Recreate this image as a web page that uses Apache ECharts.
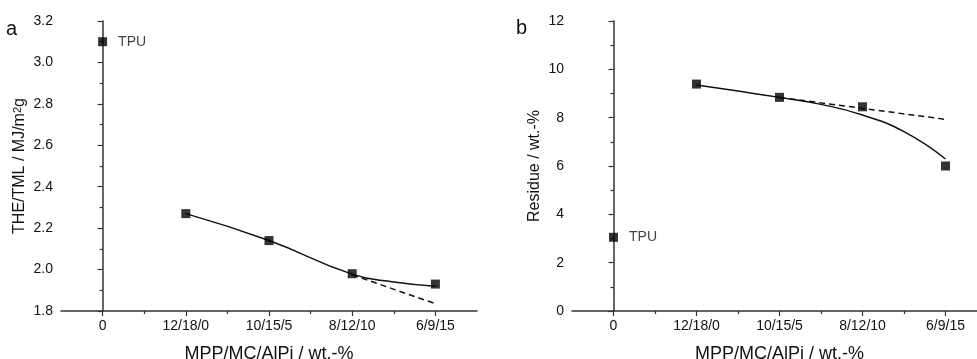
<!DOCTYPE html>
<html>
<head>
<meta charset="utf-8">
<script src="https://cdn.jsdelivr.net/npm/echarts@6/dist/echarts.min.js"></script>
<style>
  html, body { margin: 0; padding: 0; background: #fff; }
  #chart { width: 977px; height: 359px; }
</style>
</head>
<body>
<div id="chart"></div>
<script>
// Formulations: neat TPU followed by MPP/MC/AlPi ratios (wt.-%)
const categories = ['0', '12/18/0', '10/15/5', '8/12/10', '6/9/15'];

// (a) total heat evolved per total mass loss, MJ/m²g
const theValues = [3.10, 2.27, 2.14, 1.98, 1.93];
const theFitX = [1, 2, 3, 3.5, 4];
const theFitY = [2.27, 2.14, 1.978, 1.94, 1.92];
const theTrendX = [3, 4];
const theTrendY = [1.975, 1.835];

// (b) residue, wt.-%
const residueValues = [3.05, 9.39, 8.84, 8.45, 6.00];
const residueFitX = [1, 1.5, 2, 2.5, 3, 3.5, 4];
const residueFitY = [9.35, 9.10, 8.84, 8.55, 8.11, 7.42, 6.29];
const residueTrendX = [2, 4];
const residueTrendY = [8.84, 7.93];

const yTicksA = { min: 1.8, max: 3.2, interval: 0.2 };
const yTicksB = { min: 0, max: 12, interval: 2 };

const FONT = '"Liberation Sans", Arial, sans-serif';
const INK = '#111';
const AXIS = '#333';

const zip = (xs, ys) => xs.map((x, i) => [x, ys[i]]);
const indexed = values => values.map((v, i) => [i, v]);

function xAxes(gridIndex) {
  return [
    {
      type: 'value', gridIndex, min: -0.5, max: 4.5,
      axisLine: { show: true, lineStyle: { color: AXIS, width: 1.5 } },
      axisTick: { show: true, customValues: [0, 1, 2, 3, 4], length: 5, lineStyle: { color: AXIS, width: 1.2 } },
      axisLabel: {
        customValues: [0, 1, 2, 3, 4], margin: 8,
        formatter: v => categories[Math.round(v)],
        color: INK, fontSize: 14, fontFamily: FONT
      },
      splitLine: { show: false },
      name: 'MPP/MC/AlPi / wt.-%', nameLocation: 'middle', nameGap: 34,
      nameTextStyle: { color: INK, fontSize: 18, fontFamily: FONT }
    },
    {
      // half-step minor ticks between formulations
      type: 'value', gridIndex, min: -0.5, max: 4.5, position: 'bottom',
      axisLine: { show: false },
      axisTick: { show: true, customValues: [0.5, 1.5, 2.5, 3.5], length: 3, lineStyle: { color: AXIS, width: 1.2 } },
      axisLabel: { show: false },
      splitLine: { show: false }
    }
  ];
}

function yAxis(gridIndex, ticks, name, nameGap, digits) {
  return {
    type: 'value', gridIndex, min: ticks.min, max: ticks.max, interval: ticks.interval,
    axisLine: { show: true, lineStyle: { color: AXIS, width: 1.5 } },
    axisTick: { show: true, length: 5, lineStyle: { color: AXIS, width: 1.2 } },
    minorTick: { show: true, splitNumber: 2, length: 3, lineStyle: { color: AXIS, width: 1.2 } },
    axisLabel: {
      margin: 8, color: INK, fontSize: 14, fontFamily: FONT,
      formatter: v => v.toFixed(digits)
    },
    splitLine: { show: false },
    name, nameLocation: 'middle', nameGap,
    nameTextStyle: {
      color: INK, fontSize: 16, fontFamily: FONT,
      rich: {
        sup: { color: INK, fontSize: 11, fontFamily: FONT, verticalAlign: 'top', lineHeight: 12, padding: [0, 0, 6, 0] }
      }
    }
  };
}

function panelSeries(xi, yi, values, fit, trend) {
  return [
    {
      type: 'line', xAxisIndex: xi, yAxisIndex: yi, data: fit,
      smooth: 0.5, showSymbol: false, silent: true,
      lineStyle: { color: '#111', width: 1.5 }, z: 2
    },
    {
      type: 'line', xAxisIndex: xi, yAxisIndex: yi, data: trend,
      showSymbol: false, silent: true,
      lineStyle: { color: '#111', width: 1.5, type: [6, 4] }, z: 2
    },
    {
      type: 'scatter', xAxisIndex: xi, yAxisIndex: yi, data: indexed(values),
      symbol: 'rect', symbolSize: 9, itemStyle: { color: '#000' }, z: 3,
      label: {
        show: true, position: 'right', distance: 11,
        formatter: p => (p.dataIndex === 0 ? 'TPU' : ''),
        color: INK, fontSize: 14, fontFamily: FONT
      }
    }
  ];
}

const chart = echarts.init(document.getElementById('chart'), null, { renderer: 'canvas' });
chart.setOption({
  backgroundColor: '#fff',
  animation: false,
  grid: [
    { left: 61, top: 21, width: 416, height: 290, containLabel: false, outerBoundsMode: 'none' },
    { left: 572, top: 21, width: 415, height: 290, containLabel: false, outerBoundsMode: 'none' }
  ],
  xAxis: [...xAxes(0), ...xAxes(1)],
  yAxis: [
    yAxis(0, yTicksA, 'THE/TML / MJ/m{sup|2}g', 33, 1),
    yAxis(1, yTicksB, 'Residue / wt.-%', 29, 0)
  ],
  graphic: [
    { type: 'text', left: 6, top: 19, style: { text: 'a', fontSize: 20, fontFamily: FONT, fill: INK } },
    { type: 'text', left: 516, top: 18, style: { text: 'b', fontSize: 20, fontFamily: FONT, fill: INK } }
  ],
  series: [
    ...panelSeries(0, 0, theValues, zip(theFitX, theFitY), zip(theTrendX, theTrendY)),
    ...panelSeries(2, 1, residueValues, zip(residueFitX, residueFitY), zip(residueTrendX, residueTrendY))
  ]
});
</script>
</body>
</html>
